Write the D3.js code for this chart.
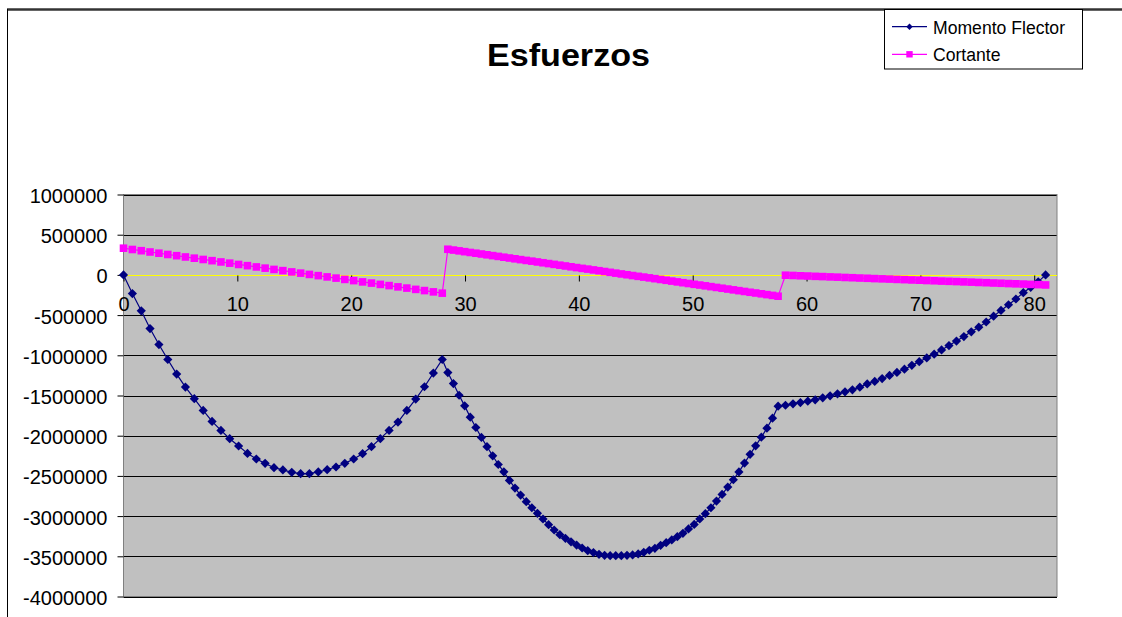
<!DOCTYPE html>
<html>
<head>
<meta charset="utf-8">
<script src="https://cdn.jsdelivr.net/npm/d3@7"></script>
<style>
  body { margin: 0; background: #fff; }
  svg { display: block; font-family: Arial, "Liberation Sans", sans-serif; }
</style>
</head>
<body>
<svg id="chart" width="1122" height="617"></svg>
<script>
// Positions along the beam (three spans)
const posicion = [
  0, 0.78, 1.56, 2.33, 3.11, 3.89, 4.67, 5.44, 6.22, 7, 7.78, 8.56, 9.33, 10.11, 10.89, 11.67,
  12.44, 13.22, 14, 14.78, 15.56, 16.33, 17.11, 17.89, 18.67, 19.44, 20.22, 21, 21.78, 22.56,
  23.33, 24.11, 24.89, 25.67, 26.44, 27.22, 28,
  28.49, 28.98, 29.48, 29.97, 30.46, 30.95, 31.44, 31.93, 32.43, 32.92, 33.41, 33.9, 34.39, 34.88,
  35.38, 35.87, 36.36, 36.85, 37.34, 37.83, 38.33, 38.82, 39.31, 39.8, 40.29, 40.78, 41.28, 41.77,
  42.26, 42.75, 43.24, 43.73, 44.23, 44.72, 45.21, 45.7, 46.19, 46.68, 47.18, 47.67, 48.16, 48.65,
  49.14, 49.63, 50.13, 50.62, 51.11, 51.6, 52.09, 52.58, 53.08, 53.57, 54.06, 54.55, 55.04, 55.53,
  56.03, 56.52, 57.01, 57.5,
  58.15, 58.81, 59.46, 60.11, 60.76, 61.42, 62.07, 62.72, 63.38, 64.03, 64.68, 65.33, 65.99, 66.64,
  67.29, 67.94, 68.6, 69.25, 69.9, 70.56, 71.21, 71.86, 72.51, 73.17, 73.82, 74.47, 75.13, 75.78,
  76.43, 77.08, 77.74, 78.39, 79.04, 79.69, 80.35, 81
];

const momentoFlector = [
  0, -232000, -447000, -667000, -866000, -1052000, -1234000, -1395000, -1540000, -1686000,
  -1822000, -1934000, -2037000, -2128000, -2220000, -2290000, -2344000, -2398000, -2426000,
  -2456000, -2472000, -2472000, -2451000, -2422000, -2389000, -2344000, -2290000, -2224000,
  -2137000, -2037000, -1934000, -1830000, -1686000, -1544000, -1391000, -1221000, -1052000,
  -1215000, -1352000, -1497000, -1629000, -1770000, -1898000, -2022000, -2136000, -2250000,
  -2358000, -2449000, -2556000, -2651000, -2738000, -2821000, -2896000, -2966000, -3036000,
  -3107000, -3173000, -3231000, -3277000, -3320000, -3360000, -3397000, -3430000, -3454000,
  -3475000, -3488000, -3492000, -3492000, -3492000, -3488000, -3483000, -3471000, -3450000,
  -3425000, -3401000, -3363000, -3330000, -3296000, -3256000, -3214000, -3160000, -3103000,
  -3036000, -2970000, -2896000, -2813000, -2730000, -2639000, -2548000, -2450000, -2341000,
  -2232000, -2126000, -2018000, -1906000, -1782000, -1633000,
  -1621000, -1604000, -1588000, -1571000, -1554000, -1529000, -1504000, -1479000, -1454000,
  -1429000, -1396000, -1356000, -1325000, -1290000, -1250000, -1213000, -1173000, -1125000,
  -1079000, -1033000, -986000, -933000, -879000, -823000, -767000, -708000, -650000, -586000,
  -513000, -442000, -371000, -300000, -221000, -154000, -86000, 0
];

const cortante = [
  332000, 316000, 301000, 285000, 270000, 254000, 239000, 223000, 208000, 192000, 177000,
  161000, 146000, 130000, 115000, 99000, 84000, 68000, 53000, 37000, 22000, 6000, -9000,
  -25000, -40000, -56000, -71000, -87000, -102000, -118000, -133000, -149000, -164000,
  -180000, -195000, -211000, -227000,
  319000, 309000, 299000, 289000, 279000, 270000, 260000, 250000, 240000, 230000, 220000,
  210000, 200000, 190000, 180000, 171000, 161000, 151000, 141000, 131000, 121000, 111000,
  101000, 91000, 81000, 72000, 62000, 52000, 42000, 32000, 22000, 12000, 2000, -8000, -18000,
  -27000, -37000, -47000, -57000, -67000, -77000, -87000, -97000, -107000, -117000, -126000,
  -136000, -146000, -156000, -166000, -176000, -186000, -196000, -206000, -216000, -225000,
  -235000, -245000, -255000, -265000,
  -4000, -7000, -11000, -14000, -18000, -21000, -25000, -28000, -32000, -35000, -39000,
  -42000, -46000, -49000, -52000, -56000, -59000, -63000, -66000, -70000, -73000, -77000,
  -80000, -83000, -87000, -90000, -94000, -97000, -101000, -104000, -108000, -111000,
  -114000, -118000, -121000, -125000
];

const xTicks = [0, 10, 20, 30, 40, 50, 60, 70, 80];
const yTicks = [1000000, 500000, 0, -500000, -1000000, -1500000, -2000000, -2500000,
                -3000000, -3500000, -4000000];
const serieNames = ["Momento Flector", "Cortante"];
const serieColors = ["#000080", "#FF00FF"];

const svg = d3.select("#chart");

// Chart frame
svg.append("line").attr("x1", 7).attr("x2", 1122).attr("y1", 9.5).attr("y2", 9.5)
  .attr("stroke", "#333").attr("stroke-width", 2.5);
svg.append("line").attr("x1", 7.5).attr("x2", 7.5).attr("y1", 9).attr("y2", 617)
  .attr("stroke", "#000").attr("stroke-width", 1);

// Title
svg.append("text").attr("x", 568.5).attr("y", 66).attr("text-anchor", "middle")
  .attr("font-weight", "bold").attr("font-size", 32)
  .attr("textLength", 163).attr("lengthAdjust", "spacingAndGlyphs")
  .text("Esfuerzos");

// Scales
const x = d3.scaleLinear().domain([0, 82]).range([123.5, 1057]);
const y = d3.scaleLinear().domain([-4000000, 1000000]).range([596.5, 194.5]);
const [px0, px1] = x.range();
const [py0, py1] = y.range();

// Plot area
svg.append("rect").attr("x", px0).attr("y", py1).attr("width", px1 - px0).attr("height", py0 - py1)
  .attr("fill", "#C0C0C0");

// Horizontal gridlines
svg.append("g").selectAll("line").data(yTicks).join("line")
  .attr("x1", px0).attr("x2", px1)
  .attr("y1", d => Math.round(y(d)) + 0.5).attr("y2", d => Math.round(y(d)) + 0.5)
  .attr("stroke", "#000").attr("stroke-width", 1);

// Plot border
svg.append("rect").attr("x", px0).attr("y", py1).attr("width", px1 - px0).attr("height", py0 - py1)
  .attr("fill", "none").attr("stroke", "#808080").attr("stroke-width", 1);

// Y axis
const yAxis = svg.append("g").attr("transform", `translate(${px0},0)`)
  .call(d3.axisLeft(y).tickValues(yTicks).tickSize(6).tickPadding(10)
    .tickFormat(d => String(d)));
yAxis.select(".domain").remove();
yAxis.selectAll("line").attr("stroke", "#000");
yAxis.selectAll("text").attr("font-size", 20).attr("fill", "#000").attr("dy", "0.4em")
  .attr("font-family", "Arial, 'Liberation Sans', sans-serif");

// X axis through zero (yellow)
const y0 = Math.round(y(0)) + 0.5;
const xAxis = svg.append("g").attr("transform", `translate(0,${y0})`)
  .call(d3.axisBottom(x).tickValues(xTicks).tickSize(6).tickPadding(15.5)
    .tickFormat(d => String(d)));
xAxis.select(".domain").attr("stroke", "#FFFF00").attr("d", `M${px0},0H${px1}`);
xAxis.selectAll("line").attr("stroke", "#000");
xAxis.selectAll("text").attr("font-size", 20).attr("fill", "#000")
  .attr("font-family", "Arial, 'Liberation Sans', sans-serif");

// Series
const line = d3.line();
const momentoPts = posicion.map((p, i) => [x(p), y(momentoFlector[i])]);
const cortantePts = posicion.map((p, i) => [x(p), y(cortante[i])]);

const diamond = r => `M0,${-r}L${r},0L0,${r}L${-r},0Z`;
const square = r => `M${-r},${-r}H${r}V${r}H${-r}Z`;

const gM = svg.append("g");
gM.append("path").attr("d", line(momentoPts)).attr("fill", "none")
  .attr("stroke", serieColors[0]).attr("stroke-width", 1.2);
gM.selectAll("path.m").data(momentoPts).join("path").attr("class", "m")
  .attr("transform", d => `translate(${d[0]},${d[1]})`)
  .attr("d", diamond(4.6)).attr("fill", serieColors[0]);

const gC = svg.append("g");
gC.append("path").attr("d", line(cortantePts)).attr("fill", "none")
  .attr("stroke", serieColors[1]).attr("stroke-width", 1.2);
gC.selectAll("path.c").data(cortantePts).join("path").attr("class", "c")
  .attr("transform", d => `translate(${d[0]},${d[1]})`)
  .attr("d", square(3.8)).attr("fill", serieColors[1]);

// Legend
const lg = svg.append("g");
lg.append("rect").attr("x", 884.5).attr("y", 9.5).attr("width", 198).attr("height", 59.5)
  .attr("fill", "#fff").attr("stroke", "#000").attr("stroke-width", 1);
const legendRows = [26.7, 54.3];
serieNames.forEach((name, i) => {
  const ly = legendRows[i];
  lg.append("line").attr("x1", 892).attr("x2", 927).attr("y1", ly).attr("y2", ly)
    .attr("stroke", serieColors[i]).attr("stroke-width", 1.2);
  lg.append("path").attr("transform", `translate(909.5,${ly})`)
    .attr("d", i === 0 ? diamond(3.2) : square(3.2)).attr("fill", serieColors[i]);
  lg.append("text").attr("x", 933).attr("y", ly + 7).attr("font-size", 17.6)
    .attr("fill", "#000").text(name);
});
</script>
</body>
</html>
